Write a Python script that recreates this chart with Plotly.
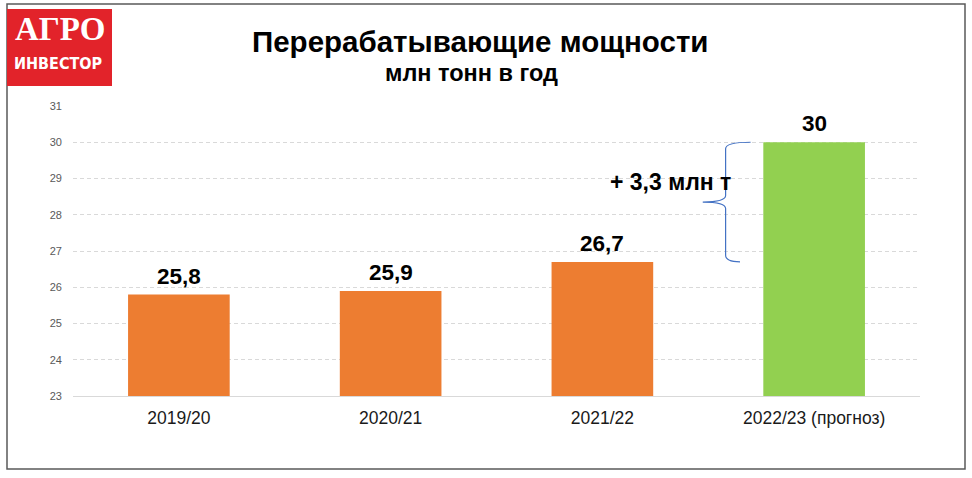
import plotly.graph_objects as go

categories = ["2019/20", "2020/21", "2021/22", "2022/23 (прогноз)"]
values = [25.8, 25.9, 26.7, 30.0]
bar_colors = ["#ED7D31", "#ED7D31", "#ED7D31", "#92D050"]
y_ticks = list(range(23, 32))

W, H = 972, 478
L, R, T, B = 73, 920, 106, 396  # plot area in pixels


def px(x):
    return (x - L) / (R - L)


def py(y):
    return (B - y) / (B - T)


def fmt(v):
    s = f"{v:.1f}".replace(".", ",")
    return s[:-2] if s.endswith(",0") else s


fig = go.Figure()
fig.add_trace(go.Bar(
    x=categories, y=values, marker=dict(color=bar_colors, line=dict(width=0)),
    hoverinfo="skip",
))

annotations = []
for c, v in zip(categories, values):
    annotations.append(dict(x=c, y=v, xref="x", yref="y", text=f"<b>{fmt(v)}</b>",
                            showarrow=False, xanchor="center", yanchor="bottom", yshift=4,
                            font=dict(family="Liberation Sans", size=22.5, color="#000000")))

# brace between last two values
y_top, y_bot = values[3], values[2]
y_mid = (y_top + y_bot) / 2
diff = round(values[3] - values[2], 1)
xr, xv, xt = 2.70, 2.582, 2.474
r = 0.18
path = (f"M {xr},{y_top} Q {xv},{y_top} {xv},{y_top - r} "
        f"L {xv},{y_mid + r} Q {xv},{y_mid} {xt},{y_mid} "
        f"Q {xv},{y_mid} {xv},{y_mid - r} "
        f"L {xv},{y_bot + r} Q {xv},{y_bot} {xr - 0.05},{y_bot}")

annotations.append(dict(x=2.32, y=y_mid + 0.55, xref="x", yref="y",
                        text=f"<b>+ {fmt(diff)} млн т</b>", showarrow=False,
                        xanchor="center", yanchor="middle",
                        font=dict(family="Liberation Sans", size=23, color="#000000")))

# title
annotations.append(dict(x=px(480), y=py(41), xref="paper", yref="paper",
                        text="<b>Перерабатывающие мощности</b>", showarrow=False,
                        xanchor="center", yanchor="middle",
                        font=dict(family="Liberation Sans", size=29.5, color="#000000")))
annotations.append(dict(x=px(471), y=py(73), xref="paper", yref="paper",
                        text="<b>млн тонн в год</b>", showarrow=False,
                        xanchor="center", yanchor="middle",
                        font=dict(family="Liberation Sans", size=23.5, color="#000000")))
# logo texts
annotations.append(dict(x=px(60), y=py(29), xref="paper", yref="paper",
                        text="<b>АГРО</b>", showarrow=False,
                        xanchor="center", yanchor="middle",
                        font=dict(family="Liberation Serif", size=33, color="#FFFFFF")))
annotations.append(dict(x=px(58), y=py(64), xref="paper", yref="paper",
                        text="<b>ИНВЕСТОР</b>", showarrow=False,
                        xanchor="center", yanchor="middle",
                        font=dict(family="DejaVu Sans Condensed, Liberation Sans", size=16,
                                  color="#FFFFFF")))

shapes = [
    dict(type="path", path=path, xref="x", yref="y",
         line=dict(color="#4472C4", width=1.2), layer="above"),
    dict(type="rect", xref="paper", yref="paper", x0=px(7), x1=px(965), y0=py(469), y1=py(4),
         line=dict(color="#595959", width=1.5), layer="above"),
    dict(type="rect", xref="paper", yref="paper", x0=px(7), x1=px(112), y0=py(86), y1=py(9),
         line=dict(width=0), fillcolor="#E2232A", layer="above"),
]

fig.update_layout(
    width=W, height=H,
    margin=dict(l=L, r=W - R, t=T, b=H - B, pad=0),
    paper_bgcolor="#FFFFFF", plot_bgcolor="#FFFFFF",
    showlegend=False, bargap=0.52,
    annotations=annotations, shapes=shapes,
    xaxis=dict(type="category", range=[-0.5, 3.5], showline=True, linecolor="#D9D9D9",
               linewidth=1, ticks="", showgrid=False, ticklabelstandoff=6,
               tickfont=dict(family="Liberation Sans", size=17.5, color="#1A1A1A")),
    yaxis=dict(range=[23, 31], tickvals=y_ticks, showgrid=True, gridcolor="#D9D9D9",
               griddash="4px,3px", gridwidth=1, zeroline=False, ticks="",
               ticklabelstandoff=10,
               tickfont=dict(family="Liberation Sans", size=11, color="#595959")),
)

fig.write_html("out.html")
